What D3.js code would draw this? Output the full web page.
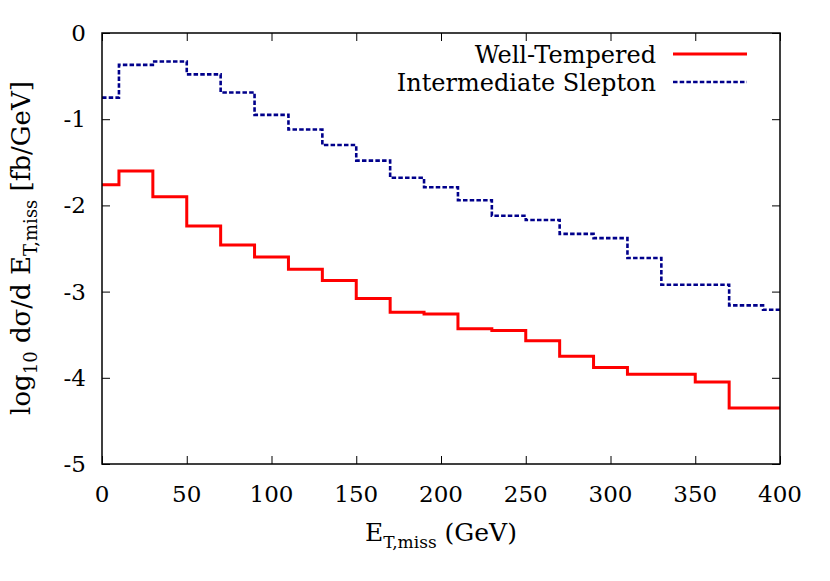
<!DOCTYPE html>
<html>
<head>
<meta charset="utf-8">
<script src="https://cdn.jsdelivr.net/npm/d3@7"></script>
<style>
  body { margin: 0; background: #fff; }
  text { font-family: "DejaVu Serif", serif; fill: #000; }
</style>
</head>
<body>
<svg id="chart"></svg>
<script>
// bin centres (GeV)
const etMiss = [0, 20, 40, 60, 80, 100, 120, 140, 160, 180, 200, 220, 240, 260, 280, 300, 320, 340, 360, 380, 400];
const wellTempered = [-1.76, -1.60, -1.90, -2.24, -2.46, -2.60, -2.74, -2.87, -3.08, -3.24, -3.26,
                      -3.43, -3.45, -3.57, -3.75, -3.88, -3.96, -3.96, -4.05, -4.35, -4.35];
const intermediateSlepton = [-0.75, -0.37, -0.33, -0.48, -0.69, -0.95, -1.12, -1.30, -1.48, -1.68, -1.79,
                             -1.94, -2.12, -2.17, -2.33, -2.38, -2.61, -2.92, -2.92, -3.16, -3.21];
const xTicks = [0, 50, 100, 150, 200, 250, 300, 350, 400];
const yTicks = [0, -1, -2, -3, -4, -5];
const seriesNames = ["Well-Tempered", "Intermediate Slepton"];

const width = 830;
const height = 581;
const plotLeft = 102, plotRight = 780, plotTop = 33, plotBottom = 464;

let svg = d3.select("#chart")
    .attr("width", width)
    .attr("height", height);

let scaleX = d3.scaleLinear().domain([0, 400]).range([plotLeft, plotRight]);
let scaleY = d3.scaleLinear().domain([-5, 0]).range([plotBottom, plotTop]);

// ticks on all four sides, pointing inward
svg.append("g")
    .attr("transform", `translate(0, ${plotBottom})`)
    .call(d3.axisTop(scaleX).tickValues(xTicks).tickSize(8).tickFormat(""))
    .call(g => g.select(".domain").remove());
svg.append("g")
    .attr("transform", `translate(0, ${plotTop})`)
    .call(d3.axisBottom(scaleX).tickValues(xTicks).tickSize(8).tickFormat(""))
    .call(g => g.select(".domain").remove());
svg.append("g")
    .attr("transform", `translate(${plotLeft}, 0)`)
    .call(d3.axisRight(scaleY).tickValues(yTicks).tickSize(8).tickFormat(""))
    .call(g => g.select(".domain").remove());
svg.append("g")
    .attr("transform", `translate(${plotRight}, 0)`)
    .call(d3.axisLeft(scaleY).tickValues(yTicks).tickSize(8).tickFormat(""))
    .call(g => g.select(".domain").remove());
svg.selectAll(".tick line").attr("stroke", "#000").attr("stroke-width", 1);

// tick labels
svg.selectAll(".xlab")
    .data(xTicks)
    .enter()
    .append("text")
    .attr("x", d => scaleX(d))
    .attr("y", 502)
    .attr("text-anchor", "middle")
    .style("font-size", "23px")
    .text(d => d);

svg.selectAll(".ylab")
    .data(yTicks)
    .enter()
    .append("text")
    .attr("x", 86)
    .attr("y", d => scaleY(d) + 8)
    .attr("text-anchor", "end")
    .style("font-size", "23px")
    .text(d => d);

// step curves (gnuplot histeps: steps at the midpoints)
let line = d3.line()
    .x(d => scaleX(d[0]))
    .y(d => scaleY(d[1]))
    .curve(d3.curveStep);

svg.append("path")
    .datum(d3.zip(etMiss, wellTempered))
    .attr("d", line)
    .attr("fill", "none")
    .attr("stroke", "#ff0000")
    .attr("stroke-width", 3);

svg.append("path")
    .datum(d3.zip(etMiss, intermediateSlepton))
    .attr("d", line)
    .attr("fill", "none")
    .attr("stroke", "#00008b")
    .attr("stroke-width", 2.6)
    .attr("stroke-dasharray", "4.5,2.2");

// frame
svg.append("rect")
    .attr("x", plotLeft)
    .attr("y", plotTop)
    .attr("width", plotRight - plotLeft)
    .attr("height", plotBottom - plotTop)
    .attr("fill", "none")
    .attr("stroke", "#000")
    .attr("stroke-width", 1.5);

// legend
let legend = svg.append("g");
let legendY = [63, 91];
legend.selectAll("text")
    .data(seriesNames)
    .enter()
    .append("text")
    .attr("x", 656)
    .attr("y", (d, i) => legendY[i])
    .attr("text-anchor", "end")
    .style("font-size", "24px")
    .text(d => d);
legend.append("line")
    .attr("x1", 673).attr("x2", 747)
    .attr("y1", 54).attr("y2", 54)
    .attr("stroke", "#ff0000").attr("stroke-width", 3);
legend.append("line")
    .attr("x1", 673).attr("x2", 747)
    .attr("y1", 82).attr("y2", 82)
    .attr("stroke", "#00008b").attr("stroke-width", 2.6)
    .attr("stroke-dasharray", "4.5,2.2");

// axis titles
let xTitle = svg.append("text")
    .attr("x", 441)
    .attr("y", 541)
    .attr("text-anchor", "middle")
    .style("font-size", "25px");
xTitle.append("tspan").text("E");
xTitle.append("tspan").attr("dy", 7).style("font-size", "17px").text("T,miss");
xTitle.append("tspan").attr("dy", -7).text(" (GeV)");

let yTitle = svg.append("text")
    .attr("transform", `translate(30, 248) rotate(-90)`)
    .attr("text-anchor", "middle")
    .style("font-size", "26px");
yTitle.append("tspan").text("log");
yTitle.append("tspan").attr("dy", 7).style("font-size", "18px").text("10");
yTitle.append("tspan").attr("dy", -7).text(" dσ/d E");
yTitle.append("tspan").attr("dy", 7).style("font-size", "18px").text("T,miss");
yTitle.append("tspan").attr("dy", -7).text(" [fb/GeV]");
</script>
</body>
</html>
